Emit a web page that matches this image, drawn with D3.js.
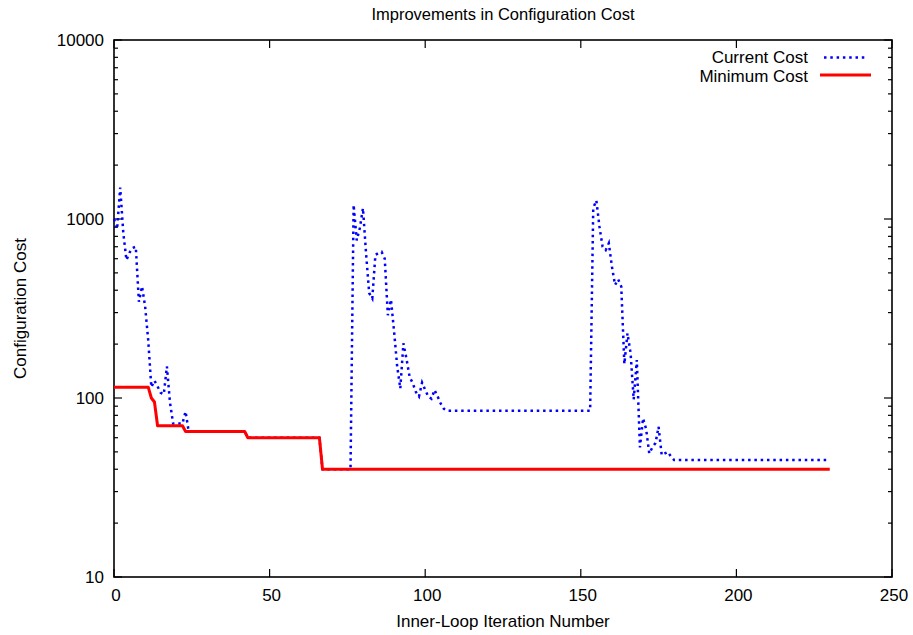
<!DOCTYPE html>
<html>
<head>
<meta charset="utf-8">
<script src="https://cdn.jsdelivr.net/npm/d3@7"></script>
<style>
  body { margin: 0; background: #fff; }
  text { font-family: "Liberation Sans", Arial, sans-serif; font-size: 17px; fill: #000; }
</style>
</head>
<body>
<svg id="chart" width="913" height="635"></svg>
<script>
// Current Cost: iteration numbers where the value changes, and the values
let currentIter = [0, 1, 2, 3, 4, 5, 6, 7, 8, 9, 10, 11, 12, 13, 14, 15, 16, 17, 18, 19, 22, 23, 24, 42, 43, 66, 67, 76,
    77, 78, 79, 80, 81, 82, 83, 84, 85, 86, 87, 88, 89, 90, 91, 92, 93, 94, 95, 96, 97, 98, 99, 100,
    101, 102, 103, 104, 105, 106, 107, 153,
    154, 155, 156, 157, 158, 159, 160, 161, 162, 163, 164, 165, 166, 167, 168, 169, 170, 171, 172, 173,
    174, 175, 176, 177, 178, 179, 180, 230]
let currentCost = [1000, 880, 1500, 830, 590, 650, 690, 700, 345, 420, 325, 210, 115, 125, 116, 107, 105, 150, 94, 72, 72, 84, 65, 65, 60, 60, 40, 40,
    1200, 760, 890, 1150, 640, 386, 360, 630, 645, 655, 600, 290, 355, 235, 150, 113, 202, 165, 131, 121, 108, 102, 122, 111,
    102, 99, 111, 102, 93, 87, 85, 85,
    1150, 1270, 906, 700, 671, 732, 542, 428, 460, 419, 155, 230, 178, 98, 163, 53, 77, 67, 49, 53,
    56, 69, 48, 49, 50, 47, 45, 45]

// Minimum Cost
let minimumIter = [0, 11, 12, 13, 14, 22, 23, 42, 43, 66, 67, 230]
let minimumCost = [115, 115, 100, 95, 70, 70, 65, 65, 60, 60, 40, 40]

let xTicks = [0, 50, 100, 150, 200, 250]
let yTicks = [10, 100, 1000, 10000]

let svg = d3.select('#chart')

let plotLeft = 114
let plotRight = 892
let plotTop = 40
let plotBottom = 577

let xScale = d3.scaleLinear().domain([0, 250]).range([plotLeft, plotRight])
let yScale = d3.scaleLog().domain([10, 10000]).range([plotBottom, plotTop])

// minor log ticks 20..90, 200..900, ...
let minorTicks = yScale.ticks().filter((v) => yTicks.indexOf(v) < 0)

let axisLayer = svg.append('g')

// y major ticks (inside, left and right)
yTicks.forEach((v) => {
    axisLayer.append('line').attr('x1', plotLeft).attr('x2', plotLeft + 8)
        .attr('y1', yScale(v)).attr('y2', yScale(v)).attr('stroke', '#000').attr('stroke-width', 1.2)
    axisLayer.append('line').attr('x1', plotRight).attr('x2', plotRight - 8)
        .attr('y1', yScale(v)).attr('y2', yScale(v)).attr('stroke', '#000').attr('stroke-width', 1.2)
    axisLayer.append('text')
        .attr('x', plotLeft - 10).attr('y', yScale(v) + 6)
        .attr('text-anchor', 'end')
        .text(v)
})
minorTicks.forEach((v) => {
    axisLayer.append('line').attr('x1', plotLeft).attr('x2', plotLeft + 4)
        .attr('y1', yScale(v)).attr('y2', yScale(v)).attr('stroke', '#000').attr('stroke-width', 1.2)
    axisLayer.append('line').attr('x1', plotRight).attr('x2', plotRight - 4)
        .attr('y1', yScale(v)).attr('y2', yScale(v)).attr('stroke', '#000').attr('stroke-width', 1.2)
})

// x ticks (inside, bottom and top)
xTicks.forEach((v) => {
    axisLayer.append('line').attr('x1', xScale(v)).attr('x2', xScale(v))
        .attr('y1', plotBottom).attr('y2', plotBottom - 8).attr('stroke', '#000').attr('stroke-width', 1.2)
    axisLayer.append('line').attr('x1', xScale(v)).attr('x2', xScale(v))
        .attr('y1', plotTop).attr('y2', plotTop + 8).attr('stroke', '#000').attr('stroke-width', 1.2)
    axisLayer.append('text')
        .attr('x', xScale(v) + 2).attr('y', plotBottom + 24)
        .attr('text-anchor', 'middle')
        .text(v)
})

// frame
axisLayer.append('rect')
    .attr('x', plotLeft).attr('y', plotTop)
    .attr('width', plotRight - plotLeft).attr('height', plotBottom - plotTop)
    .attr('fill', 'none').attr('stroke', '#000').attr('stroke-width', 1.6)

// titles
svg.append('text').attr('x', (plotLeft + plotRight) / 2).attr('y', 20)
    .attr('text-anchor', 'middle').style('font-size', '16.5px').text('Improvements in Configuration Cost')
svg.append('text').attr('x', (plotLeft + plotRight) / 2).attr('y', 627)
    .attr('text-anchor', 'middle').text('Inner-Loop Iteration Number')
svg.append('text')
    .attr('transform', 'translate(26,' + ((plotTop + plotBottom) / 2) + ') rotate(-90)')
    .attr('text-anchor', 'middle').text('Configuration Cost')

// lines
let line = d3.line()
    .x((d) => xScale(d[0]))
    .y((d) => yScale(d[1]))

let currentPoints = currentIter.map((it, i) => [it, currentCost[i]])
let minimumPoints = minimumIter.map((it, i) => [it, minimumCost[i]])

svg.append('path')
    .attr('d', line(currentPoints))
    .attr('fill', 'none')
    .attr('stroke', '#0000ff')
    .attr('stroke-width', 2.5)
    .attr('stroke-dasharray', '2.5,3.8')

svg.append('path')
    .attr('d', line(minimumPoints))
    .attr('fill', 'none')
    .attr('stroke', '#ff0000')
    .attr('stroke-width', 3)
    .attr('stroke-linejoin', 'round')

// legend
let legend = svg.append('g')
legend.append('text').attr('x', 808).attr('y', 63).attr('text-anchor', 'end').text('Current Cost')
legend.append('line').attr('x1', 824).attr('x2', 868).attr('y1', 57.5).attr('y2', 57.5)
    .attr('stroke', '#0000ff').attr('stroke-width', 2.5).attr('stroke-dasharray', '2.5,3.8')
legend.append('text').attr('x', 808).attr('y', 82).attr('text-anchor', 'end').text('Minimum Cost')
legend.append('line').attr('x1', 820).attr('x2', 871).attr('y1', 75).attr('y2', 75)
    .attr('stroke', '#ff0000').attr('stroke-width', 3)
</script>
</body>
</html>
